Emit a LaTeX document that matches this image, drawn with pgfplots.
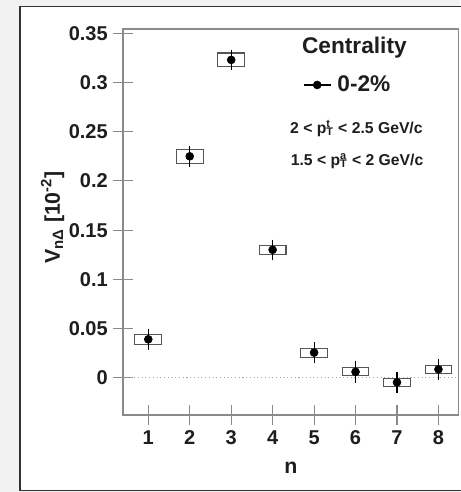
\documentclass[border=0pt]{standalone}
\usepackage{pgfplots}
\pgfplotsset{compat=1.18}
\usepackage{pgfplotstable}
\usepackage{fontspec}
\setmainfont{Liberation Sans}
\definecolor{axgray}{HTML}{8A8A8A}
\definecolor{txt}{HTML}{1E1E1E}
\definecolor{boxgray}{HTML}{555555}
\pgfplotsset{sysbox/.style={
  /pgfplots/error bars/draw error bar/.code 2 args={%
    \path ##1 coordinate (eba) ##2 coordinate (ebb);%
    \draw[boxgray, line width=0.8pt] ([xshift=-10pt]eba) rectangle ([xshift=10pt]ebb);}}}
\pgfplotstableread{
n v stat sys
1 0.039 0.0075 0.005
2 0.225 0.007 0.007
3 0.323 0.007 0.007
4 0.130 0.007 0.0045
5 0.0255 0.0075 0.0045
6 0.006 0.0075 0.004
7 -0.0047 0.0075 0.004
8 0.0085 0.0075 0.004
}\data
\begin{document}
\begin{tikzpicture}
\fill[gray!10] (-92.25pt,-57.75pt) rectangle (252.75pt,311.25pt);
\fill[white] (-77.25pt,-56.6pt) rectangle (262pt,306.4pt);
\begin{axis}[
  at={(0pt,0pt)}, anchor=south west,
  scale only axis, width=251.5pt, height=289.5pt,
  xmin=0.39, xmax=8.48, ymin=-0.0379, ymax=0.3544,
  axis line style={axgray, line width=0.8pt},
  tick pos=left,
  xtick={1,...,8},
  ytick={0,0.05,...,0.35},
  yticklabels={0,0.05,0.1,0.15,0.2,0.25,0.3,0.35},
  tick align=center,
  major tick length=15pt,
  tick style={axgray, line width=0.8pt},
  /pgf/number format/assume math mode=true,
  tick label style={font=\bfseries\fontsize{15}{17}\selectfont, text=txt},
  yticklabel style={inner sep=0pt, xshift=-3.75pt},
  xticklabel style={inner sep=0pt, yshift=-3.75pt},
  xlabel={n}, ylabel={V\textsubscript{nΔ} [10\textsuperscript{-2}]},
  label style={font=\bfseries\fontsize{16}{18}\selectfont, text=txt},
  xlabel style={at={(axis description cs:0.501,-0.137)}, anchor=center},
  ylabel style={at={(axis description cs:-0.21,0.512)}, anchor=center, rotate=0},
  legend style={at={(rel axis cs:0.537,0.855)}, anchor=west, draw=none, fill=none,
    inner sep=0pt, font=\bfseries\fontsize{17}{20}\selectfont, text=txt},
  legend image code/.code={
    \draw[black, line width=0.8pt] (0pt,0pt) -- (20pt,0pt);
    \fill[black] (10pt,0pt) circle (3pt);
    \path (23pt,0pt);},
  clip=false,
]
\addplot[gray!70, dotted, line width=0.8pt, forget plot] coordinates {(0.39,0) (8.48,0)};
\addplot[draw=none, mark=none, forget plot, sysbox,
  error bars/.cd, y dir=plus, y explicit]
  table[x=n, y expr=\thisrow{v}-\thisrow{sys}, y error expr=2*\thisrow{sys}] {\data};
\addplot[black, only marks, mark=*, mark size=3pt,
  error bars/.cd, y dir=both, y explicit,
  error bar style={black, line width=0.8pt},
  error mark=-, error mark options={black, mark size=2.5pt, line width=0.8pt}]
  table[x=n, y=v, y error=stat] {\data};
\addlegendentry{0-2\%}
\node[font=\bfseries\fontsize{17}{20}\selectfont, text=txt] at (rel axis cs:0.690,0.951) {Centrality};
\node[font=\bfseries\fontsize{11.8}{14}\selectfont, text=txt] at (rel axis cs:0.696,0.743)
  {2 < p\rlap{\textsuperscript{t}}\textsubscript{T} < 2.5 GeV/c};
\node[font=\bfseries\fontsize{11.8}{14}\selectfont, text=txt] at (rel axis cs:0.698,0.658)
  {1.5 < p\rlap{\textsuperscript{a}}\textsubscript{T} < 2 GeV/c};
\end{axis}
\draw[black!80, line width=1.2pt] (262pt,306.4pt) -- (-77.25pt,306.4pt) -- (-77.25pt,-56.6pt) -- (262pt,-56.6pt);
\pgfresetboundingbox
\useasboundingbox (-92.25pt,-57.75pt) rectangle (252.75pt,311.25pt);
\end{tikzpicture}
\end{document}
